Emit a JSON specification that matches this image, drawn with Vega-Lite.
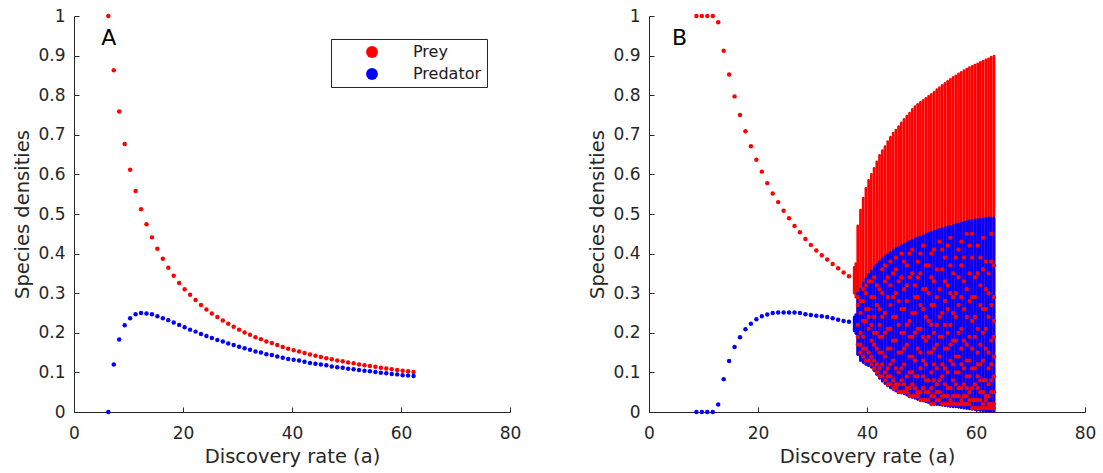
{
"$schema":"https://vega.github.io/schema/vega-lite/v6.json",
"background":"white",
"padding":{"left":12,"top":7,"right":4,"bottom":4},
"config":{
 "view":{"stroke":null},
 "font":"DejaVu Sans",
 "axis":{"grid":false,"domainColor":"#262626","domainWidth":1,"tickColor":"#262626","tickWidth":1,"tickSize":-5,"labelFont":"DejaVu Sans","labelFontSize":17,"labelColor":"#262626","titleFont":"DejaVu Sans","titleFontSize":19.5,"titleFontWeight":"normal","titleColor":"#262626","labelFlush":false},
 "axisY":{"labelPadding":14,"titlePadding":5},
 "axisX":{"labelPadding":18,"titlePadding":6},
 "legend":{"strokeWidth":1}
},
"datasets":{
 "A":[
  {"a":6.3,"s":"Prey","v":1},{"a":7.3,"s":"Prey","v":0.863},{"a":8.3,"s":"Prey","v":0.759},{"a":9.3,"s":"Prey","v":0.677},{"a":10.3,"s":"Prey","v":0.612},{"a":11.3,"s":"Prey","v":0.558},{"a":12.3,"s":"Prey","v":0.512},{"a":13.3,"s":"Prey","v":0.474},{"a":14.3,"s":"Prey","v":0.441},{"a":15.3,"s":"Prey","v":0.412},{"a":16.3,"s":"Prey","v":0.387},{"a":17.3,"s":"Prey","v":0.364},{"a":18.3,"s":"Prey","v":0.344},{"a":19.3,"s":"Prey","v":0.326},{"a":20.3,"s":"Prey","v":0.31},{"a":21.3,"s":"Prey","v":0.296},{"a":22.3,"s":"Prey","v":0.283},{"a":23.3,"s":"Prey","v":0.27},{"a":24.3,"s":"Prey","v":0.259},{"a":25.3,"s":"Prey","v":0.249},{"a":26.3,"s":"Prey","v":0.24},{"a":27.3,"s":"Prey","v":0.231},{"a":28.3,"s":"Prey","v":0.223},{"a":29.3,"s":"Prey","v":0.215},{"a":30.3,"s":"Prey","v":0.208},{"a":31.3,"s":"Prey","v":0.201},{"a":32.3,"s":"Prey","v":0.195},{"a":33.3,"s":"Prey","v":0.189},{"a":34.3,"s":"Prey","v":0.184},{"a":35.3,"s":"Prey","v":0.178},{"a":36.3,"s":"Prey","v":0.174},{"a":37.3,"s":"Prey","v":0.169},{"a":38.3,"s":"Prey","v":0.164},{"a":39.3,"s":"Prey","v":0.16},{"a":40.3,"s":"Prey","v":0.156},{"a":41.3,"s":"Prey","v":0.153},{"a":42.3,"s":"Prey","v":0.149},{"a":43.3,"s":"Prey","v":0.145},{"a":44.3,"s":"Prey","v":0.142},{"a":45.3,"s":"Prey","v":0.139},{"a":46.3,"s":"Prey","v":0.136},{"a":47.3,"s":"Prey","v":0.133},{"a":48.3,"s":"Prey","v":0.13},{"a":49.3,"s":"Prey","v":0.128},{"a":50.3,"s":"Prey","v":0.125},{"a":51.3,"s":"Prey","v":0.123},{"a":52.3,"s":"Prey","v":0.12},{"a":53.3,"s":"Prey","v":0.118},{"a":54.3,"s":"Prey","v":0.116},{"a":55.3,"s":"Prey","v":0.114},{"a":56.3,"s":"Prey","v":0.112},{"a":57.3,"s":"Prey","v":0.11},{"a":58.3,"s":"Prey","v":0.108},{"a":59.3,"s":"Prey","v":0.106},{"a":60.3,"s":"Prey","v":0.104},{"a":61.3,"s":"Prey","v":0.103},{"a":62.3,"s":"Prey","v":0.101},
  {"a":6.3,"s":"Predator","v":0},{"a":7.3,"s":"Predator","v":0.12},{"a":8.3,"s":"Predator","v":0.183},{"a":9.3,"s":"Predator","v":0.219},{"a":10.3,"s":"Predator","v":0.237},{"a":11.3,"s":"Predator","v":0.247},{"a":12.3,"s":"Predator","v":0.25},{"a":13.3,"s":"Predator","v":0.249},{"a":14.3,"s":"Predator","v":0.247},{"a":15.3,"s":"Predator","v":0.242},{"a":16.3,"s":"Predator","v":0.237},{"a":17.3,"s":"Predator","v":0.232},{"a":18.3,"s":"Predator","v":0.226},{"a":19.3,"s":"Predator","v":0.22},{"a":20.3,"s":"Predator","v":0.214},{"a":21.3,"s":"Predator","v":0.208},{"a":22.3,"s":"Predator","v":0.203},{"a":23.3,"s":"Predator","v":0.197},{"a":24.3,"s":"Predator","v":0.192},{"a":25.3,"s":"Predator","v":0.187},{"a":26.3,"s":"Predator","v":0.182},{"a":27.3,"s":"Predator","v":0.178},{"a":28.3,"s":"Predator","v":0.173},{"a":29.3,"s":"Predator","v":0.169},{"a":30.3,"s":"Predator","v":0.165},{"a":31.3,"s":"Predator","v":0.161},{"a":32.3,"s":"Predator","v":0.157},{"a":33.3,"s":"Predator","v":0.153},{"a":34.3,"s":"Predator","v":0.15},{"a":35.3,"s":"Predator","v":0.146},{"a":36.3,"s":"Predator","v":0.144},{"a":37.3,"s":"Predator","v":0.14},{"a":38.3,"s":"Predator","v":0.137},{"a":39.3,"s":"Predator","v":0.134},{"a":40.3,"s":"Predator","v":0.132},{"a":41.3,"s":"Predator","v":0.13},{"a":42.3,"s":"Predator","v":0.127},{"a":43.3,"s":"Predator","v":0.124},{"a":44.3,"s":"Predator","v":0.122},{"a":45.3,"s":"Predator","v":0.12},{"a":46.3,"s":"Predator","v":0.118},{"a":47.3,"s":"Predator","v":0.115},{"a":48.3,"s":"Predator","v":0.113},{"a":49.3,"s":"Predator","v":0.112},{"a":50.3,"s":"Predator","v":0.109},{"a":51.3,"s":"Predator","v":0.108},{"a":52.3,"s":"Predator","v":0.106},{"a":53.3,"s":"Predator","v":0.104},{"a":54.3,"s":"Predator","v":0.103},{"a":55.3,"s":"Predator","v":0.101},{"a":56.3,"s":"Predator","v":0.099},{"a":57.3,"s":"Predator","v":0.098},{"a":58.3,"s":"Predator","v":0.096},{"a":59.3,"s":"Predator","v":0.095},{"a":60.3,"s":"Predator","v":0.093},{"a":61.3,"s":"Predator","v":0.092},{"a":62.3,"s":"Predator","v":0.091}
 ],
 "LA":[{"a":5.0,"v":0.927,"t":"A"}],
 "LB":[{"a":4.2,"v":0.927,"t":"B"}],
 "B":[
  {"a":8.7,"s":"Prey","v":1},{"a":9.7,"s":"Prey","v":1},{"a":10.7,"s":"Prey","v":1},{"a":11.7,"s":"Prey","v":1},{"a":12.7,"s":"Prey","v":0.984},{"a":13.7,"s":"Prey","v":0.912},{"a":14.7,"s":"Prey","v":0.852},{"a":15.7,"s":"Prey","v":0.797},{"a":16.7,"s":"Prey","v":0.75},{"a":17.7,"s":"Prey","v":0.709},{"a":18.7,"s":"Prey","v":0.671},{"a":19.7,"s":"Prey","v":0.637},{"a":20.7,"s":"Prey","v":0.607},{"a":21.7,"s":"Prey","v":0.578},{"a":22.7,"s":"Prey","v":0.552},{"a":23.7,"s":"Prey","v":0.53},{"a":24.7,"s":"Prey","v":0.508},{"a":25.7,"s":"Prey","v":0.489},{"a":26.7,"s":"Prey","v":0.47},{"a":27.7,"s":"Prey","v":0.454},{"a":28.7,"s":"Prey","v":0.437},{"a":29.7,"s":"Prey","v":0.422},{"a":30.7,"s":"Prey","v":0.408},{"a":31.7,"s":"Prey","v":0.396},{"a":32.7,"s":"Prey","v":0.385},{"a":33.7,"s":"Prey","v":0.374},{"a":34.7,"s":"Prey","v":0.363},{"a":35.7,"s":"Prey","v":0.352},{"a":36.7,"s":"Prey","v":0.343},
  {"a":8.7,"s":"Predator","v":0},{"a":9.7,"s":"Predator","v":0},{"a":10.7,"s":"Predator","v":0},{"a":11.7,"s":"Predator","v":0},{"a":12.7,"s":"Predator","v":0.019},{"a":13.7,"s":"Predator","v":0.083},{"a":14.7,"s":"Predator","v":0.129},{"a":15.7,"s":"Predator","v":0.164},{"a":16.7,"s":"Predator","v":0.189},{"a":17.7,"s":"Predator","v":0.209},{"a":18.7,"s":"Predator","v":0.223},{"a":19.7,"s":"Predator","v":0.234},{"a":20.7,"s":"Predator","v":0.242},{"a":21.7,"s":"Predator","v":0.246},{"a":22.7,"s":"Predator","v":0.25},{"a":23.7,"s":"Predator","v":0.251},{"a":24.7,"s":"Predator","v":0.251},{"a":25.7,"s":"Predator","v":0.251},{"a":26.7,"s":"Predator","v":0.251},{"a":27.7,"s":"Predator","v":0.25},{"a":28.7,"s":"Predator","v":0.247},{"a":29.7,"s":"Predator","v":0.245},{"a":30.7,"s":"Predator","v":0.243},{"a":31.7,"s":"Predator","v":0.242},{"a":32.7,"s":"Predator","v":0.24},{"a":33.7,"s":"Predator","v":0.237},{"a":34.7,"s":"Predator","v":0.233},{"a":35.7,"s":"Predator","v":0.23},{"a":36.7,"s":"Predator","v":0.228}
 ],
 "Bprey":[
  {"a":37.65,"v":0.3,"v2":0.365},{"a":37.95,"v":0.29,"v2":0.375},
  {"a":38.3,"v":0.145,"v2":0.47},{"a":38.8,"v":0.13,"v2":0.51},{"a":39.3,"v":0.125,"v2":0.54},{"a":39.8,"v":0.12,"v2":0.565},{"a":40.3,"v":0.117,"v2":0.585},{"a":40.8,"v":0.113,"v2":0.6},{"a":41.3,"v":0.105,"v2":0.615},{"a":41.8,"v":0.095,"v2":0.632},{"a":42.3,"v":0.085,"v2":0.648},{"a":42.8,"v":0.078,"v2":0.66},{"a":43.3,"v":0.072,"v2":0.67},{"a":43.8,"v":0.066,"v2":0.683},{"a":44.3,"v":0.061,"v2":0.694},{"a":44.8,"v":0.057,"v2":0.704},{"a":45.3,"v":0.053,"v2":0.712},{"a":45.8,"v":0.05,"v2":0.721},{"a":46.3,"v":0.048,"v2":0.73},{"a":46.8,"v":0.046,"v2":0.739},{"a":47.3,"v":0.043,"v2":0.747},{"a":47.8,"v":0.04,"v2":0.755},{"a":48.3,"v":0.037,"v2":0.764},{"a":48.8,"v":0.035,"v2":0.771},{"a":49.3,"v":0.032,"v2":0.777},{"a":49.8,"v":0.03,"v2":0.782},{"a":50.3,"v":0.028,"v2":0.787},{"a":50.8,"v":0.026,"v2":0.792},{"a":51.3,"v":0.024,"v2":0.797},{"a":51.8,"v":0.023,"v2":0.802},{"a":52.3,"v":0.021,"v2":0.808},{"a":52.8,"v":0.019,"v2":0.814},{"a":53.3,"v":0.018,"v2":0.819},{"a":53.8,"v":0.017,"v2":0.825},{"a":54.3,"v":0.016,"v2":0.83},{"a":54.8,"v":0.015,"v2":0.835},{"a":55.3,"v":0.014,"v2":0.84},{"a":55.8,"v":0.013,"v2":0.845},{"a":56.3,"v":0.013,"v2":0.849},{"a":56.8,"v":0.012,"v2":0.854},{"a":57.3,"v":0.011,"v2":0.858},{"a":57.8,"v":0.01,"v2":0.862},{"a":58.3,"v":0.009,"v2":0.866},{"a":58.8,"v":0.008,"v2":0.87},{"a":59.3,"v":0.007,"v2":0.873},{"a":59.8,"v":0.006,"v2":0.876},{"a":60.3,"v":0.005,"v2":0.879},{"a":60.8,"v":0.004,"v2":0.883},{"a":61.3,"v":0.003,"v2":0.886},{"a":61.8,"v":0.002,"v2":0.889},{"a":62.3,"v":0.002,"v2":0.892},{"a":62.8,"v":0.001,"v2":0.896},{"a":63.3,"v":0.001,"v2":0.899}
 ],
 "Bpred":[
  {"a":37.65,"v":0.205,"v2":0.24},{"a":37.95,"v":0.198,"v2":0.246},
  {"a":38.3,"v":0.145,"v2":0.3},{"a":38.8,"v":0.13,"v2":0.31},{"a":39.3,"v":0.125,"v2":0.325},{"a":39.8,"v":0.12,"v2":0.337},{"a":40.3,"v":0.117,"v2":0.347},{"a":40.8,"v":0.113,"v2":0.356},{"a":41.3,"v":0.105,"v2":0.365},{"a":41.8,"v":0.095,"v2":0.373},{"a":42.3,"v":0.085,"v2":0.38},{"a":42.8,"v":0.078,"v2":0.387},{"a":43.3,"v":0.072,"v2":0.393},{"a":43.8,"v":0.066,"v2":0.398},{"a":44.3,"v":0.061,"v2":0.403},{"a":44.8,"v":0.057,"v2":0.408},{"a":45.3,"v":0.053,"v2":0.412},{"a":45.8,"v":0.05,"v2":0.416},{"a":46.3,"v":0.048,"v2":0.42},{"a":46.8,"v":0.046,"v2":0.423},{"a":47.3,"v":0.043,"v2":0.427},{"a":47.8,"v":0.04,"v2":0.431},{"a":48.3,"v":0.037,"v2":0.434},{"a":48.8,"v":0.035,"v2":0.437},{"a":49.3,"v":0.032,"v2":0.44},{"a":49.8,"v":0.03,"v2":0.442},{"a":50.3,"v":0.028,"v2":0.445},{"a":50.8,"v":0.026,"v2":0.448},{"a":51.3,"v":0.024,"v2":0.451},{"a":51.8,"v":0.023,"v2":0.454},{"a":52.3,"v":0.021,"v2":0.456},{"a":52.8,"v":0.019,"v2":0.459},{"a":53.3,"v":0.018,"v2":0.461},{"a":53.8,"v":0.017,"v2":0.463},{"a":54.3,"v":0.016,"v2":0.465},{"a":54.8,"v":0.015,"v2":0.467},{"a":55.3,"v":0.014,"v2":0.469},{"a":55.8,"v":0.013,"v2":0.471},{"a":56.3,"v":0.013,"v2":0.473},{"a":56.8,"v":0.012,"v2":0.475},{"a":57.3,"v":0.011,"v2":0.477},{"a":57.8,"v":0.01,"v2":0.479},{"a":58.3,"v":0.009,"v2":0.481},{"a":58.8,"v":0.008,"v2":0.483},{"a":59.3,"v":0.007,"v2":0.484},{"a":59.8,"v":0.006,"v2":0.485},{"a":60.3,"v":0.005,"v2":0.486},{"a":60.8,"v":0.004,"v2":0.487},{"a":61.3,"v":0.003,"v2":0.488},{"a":61.8,"v":0.002,"v2":0.489},{"a":62.3,"v":0.002,"v2":0.49},{"a":62.8,"v":0.001,"v2":0.49},{"a":63.3,"v":0.001,"v2":0.49}
 ],
 "Bs":[
  {"a":38.3,"v":0.17},{"a":38.3,"v":0.22},{"a":38.3,"v":0.27},{"a":38.3,"v":0.19},{"a":38.3,"v":0.29},
  {"a":38.8,"v":0.15},{"a":38.8,"v":0.2},{"a":38.8,"v":0.25},{"a":38.8,"v":0.17},{"a":38.8,"v":0.28},
  {"a":39.3,"v":0.14},{"a":39.3,"v":0.19},{"a":39.3,"v":0.28},{"a":39.3,"v":0.31},{"a":39.3,"v":0.16},{"a":39.3,"v":0.23},
  {"a":39.8,"v":0.16},{"a":39.8,"v":0.23},{"a":39.8,"v":0.3},{"a":39.8,"v":0.13},{"a":39.8,"v":0.26},{"a":39.8,"v":0.32},
  {"a":40.3,"v":0.13},{"a":40.3,"v":0.21},{"a":40.3,"v":0.26},{"a":40.3,"v":0.33},{"a":40.3,"v":0.15},{"a":40.3,"v":0.24},
  {"a":40.8,"v":0.12},{"a":40.8,"v":0.18},{"a":40.8,"v":0.29},{"a":40.8,"v":0.14},{"a":40.8,"v":0.22},{"a":40.8,"v":0.33},
  {"a":41.3,"v":0.11},{"a":41.3,"v":0.17},{"a":41.3,"v":0.24},{"a":41.3,"v":0.34},{"a":41.3,"v":0.13},{"a":41.3,"v":0.2},{"a":41.3,"v":0.29},
  {"a":41.8,"v":0.1},{"a":41.8,"v":0.2},{"a":41.8,"v":0.27},{"a":41.8,"v":0.12},{"a":41.8,"v":0.16},{"a":41.8,"v":0.32},
  {"a":42.3,"v":0.09},{"a":42.3,"v":0.15},{"a":42.3,"v":0.22},{"a":42.3,"v":0.31},{"a":42.3,"v":0.11},{"a":42.3,"v":0.19},{"a":42.3,"v":0.26},
  {"a":42.8,"v":0.12},{"a":42.8,"v":0.19},{"a":42.8,"v":0.36},{"a":42.8,"v":0.09},{"a":42.8,"v":0.15},{"a":42.8,"v":0.24},{"a":42.8,"v":0.3},
  {"a":43.3,"v":0.08},{"a":43.3,"v":0.14},{"a":43.3,"v":0.25},{"a":43.3,"v":0.33},{"a":43.3,"v":0.1},{"a":43.3,"v":0.2},{"a":43.3,"v":0.37},
  {"a":43.8,"v":0.07},{"a":43.8,"v":0.11},{"a":43.8,"v":0.21},{"a":43.8,"v":0.29},{"a":43.8,"v":0.09},{"a":43.8,"v":0.16},{"a":43.8,"v":0.34},
  {"a":44.3,"v":0.09},{"a":44.3,"v":0.16},{"a":44.3,"v":0.27},{"a":44.3,"v":0.38},{"a":44.3,"v":0.07},{"a":44.3,"v":0.12},{"a":44.3,"v":0.21},{"a":44.3,"v":0.32},
  {"a":44.8,"v":0.06},{"a":44.8,"v":0.13},{"a":44.8,"v":0.24},{"a":44.8,"v":0.08},{"a":44.8,"v":0.18},{"a":44.8,"v":0.29},{"a":44.8,"v":0.35},
  {"a":45.3,"v":0.07},{"a":45.3,"v":0.18},{"a":45.3,"v":0.3},{"a":45.3,"v":0.36},{"a":45.3,"v":0.06},{"a":45.3,"v":0.11},{"a":45.3,"v":0.24},{"a":45.3,"v":0.39},
  {"a":45.8,"v":0.05},{"a":45.8,"v":0.1},{"a":45.8,"v":0.22},{"a":45.8,"v":0.33},{"a":45.8,"v":0.07},{"a":45.8,"v":0.15},{"a":45.8,"v":0.28},
  {"a":46.3,"v":0.08},{"a":46.3,"v":0.15},{"a":46.3,"v":0.26},{"a":46.3,"v":0.4},{"a":46.3,"v":0.05},{"a":46.3,"v":0.11},{"a":46.3,"v":0.2},{"a":46.3,"v":0.34},
  {"a":46.8,"v":0.05},{"a":46.8,"v":0.12},{"a":46.8,"v":0.2},{"a":46.8,"v":0.31},{"a":46.8,"v":0.07},{"a":46.8,"v":0.16},{"a":46.8,"v":0.26},{"a":46.8,"v":0.38},
  {"a":47.3,"v":0.06},{"a":47.3,"v":0.17},{"a":47.3,"v":0.28},{"a":47.3,"v":0.37},{"a":47.3,"v":0.05},{"a":47.3,"v":0.09},{"a":47.3,"v":0.22},{"a":47.3,"v":0.32},
  {"a":47.8,"v":0.04},{"a":47.8,"v":0.1},{"a":47.8,"v":0.23},{"a":47.8,"v":0.34},{"a":47.8,"v":0.06},{"a":47.8,"v":0.14},{"a":47.8,"v":0.19},{"a":47.8,"v":0.4},
  {"a":48.3,"v":0.07},{"a":48.3,"v":0.14},{"a":48.3,"v":0.19},{"a":48.3,"v":0.41},{"a":48.3,"v":0.04},{"a":48.3,"v":0.1},{"a":48.3,"v":0.25},{"a":48.3,"v":0.35},
  {"a":48.8,"v":0.04},{"a":48.8,"v":0.09},{"a":48.8,"v":0.25},{"a":48.8,"v":0.32},{"a":48.8,"v":0.06},{"a":48.8,"v":0.13},{"a":48.8,"v":0.2},{"a":48.8,"v":0.29},
  {"a":49.3,"v":0.05},{"a":49.3,"v":0.16},{"a":49.3,"v":0.29},{"a":49.3,"v":0.38},{"a":49.3,"v":0.04},{"a":49.3,"v":0.09},{"a":49.3,"v":0.21},{"a":49.3,"v":0.34},
  {"a":49.8,"v":0.03},{"a":49.8,"v":0.11},{"a":49.8,"v":0.21},{"a":49.8,"v":0.35},{"a":49.8,"v":0.05},{"a":49.8,"v":0.15},{"a":49.8,"v":0.27},{"a":49.8,"v":0.4},
  {"a":50.3,"v":0.06},{"a":50.3,"v":0.13},{"a":50.3,"v":0.26},{"a":50.3,"v":0.42},{"a":50.3,"v":0.03},{"a":50.3,"v":0.09},{"a":50.3,"v":0.19},{"a":50.3,"v":0.31},
  {"a":50.8,"v":0.03},{"a":50.8,"v":0.08},{"a":50.8,"v":0.18},{"a":50.8,"v":0.31},{"a":50.8,"v":0.05},{"a":50.8,"v":0.12},{"a":50.8,"v":0.24},{"a":50.8,"v":0.37},
  {"a":51.3,"v":0.05},{"a":51.3,"v":0.15},{"a":51.3,"v":0.23},{"a":51.3,"v":0.37},{"a":51.3,"v":0.03},{"a":51.3,"v":0.08},{"a":51.3,"v":0.19},{"a":51.3,"v":0.3},
  {"a":51.8,"v":0.02},{"a":51.8,"v":0.1},{"a":51.8,"v":0.27},{"a":51.8,"v":0.4},{"a":51.8,"v":0.04},{"a":51.8,"v":0.06},{"a":51.8,"v":0.15},{"a":51.8,"v":0.22},{"a":51.8,"v":0.34},
  {"a":52.3,"v":0.04},{"a":52.3,"v":0.12},{"a":52.3,"v":0.2},{"a":52.3,"v":0.33},{"a":52.3,"v":0.02},{"a":52.3,"v":0.08},{"a":52.3,"v":0.16},{"a":52.3,"v":0.27},{"a":52.3,"v":0.41},
  {"a":52.8,"v":0.03},{"a":52.8,"v":0.07},{"a":52.8,"v":0.17},{"a":52.8,"v":0.29},{"a":52.8,"v":0.05},{"a":52.8,"v":0.11},{"a":52.8,"v":0.22},{"a":52.8,"v":0.36},
  {"a":53.3,"v":0.05},{"a":53.3,"v":0.14},{"a":53.3,"v":0.24},{"a":53.3,"v":0.43},{"a":53.3,"v":0.03},{"a":53.3,"v":0.08},{"a":53.3,"v":0.19},{"a":53.3,"v":0.31},
  {"a":53.8,"v":0.02},{"a":53.8,"v":0.09},{"a":53.8,"v":0.19},{"a":53.8,"v":0.36},{"a":53.8,"v":0.04},{"a":53.8,"v":0.12},{"a":53.8,"v":0.25},{"a":53.8,"v":0.41},
  {"a":54.3,"v":0.04},{"a":54.3,"v":0.11},{"a":54.3,"v":0.28},{"a":54.3,"v":0.39},{"a":54.3,"v":0.02},{"a":54.3,"v":0.07},{"a":54.3,"v":0.16},{"a":54.3,"v":0.22},{"a":54.3,"v":0.33},
  {"a":54.8,"v":0.02},{"a":54.8,"v":0.06},{"a":54.8,"v":0.16},{"a":54.8,"v":0.32},{"a":54.8,"v":0.04},{"a":54.8,"v":0.1},{"a":54.8,"v":0.2},{"a":54.8,"v":0.26},{"a":54.8,"v":0.42},
  {"a":55.3,"v":0.03},{"a":55.3,"v":0.13},{"a":55.3,"v":0.22},{"a":55.3,"v":0.44},{"a":55.3,"v":0.02},{"a":55.3,"v":0.06},{"a":55.3,"v":0.17},{"a":55.3,"v":0.3},{"a":55.3,"v":0.37},
  {"a":55.8,"v":0.02},{"a":55.8,"v":0.08},{"a":55.8,"v":0.25},{"a":55.8,"v":0.35},{"a":55.8,"v":0.04},{"a":55.8,"v":0.12},{"a":55.8,"v":0.18},{"a":55.8,"v":0.29},
  {"a":56.3,"v":0.04},{"a":56.3,"v":0.1},{"a":56.3,"v":0.18},{"a":56.3,"v":0.3},{"a":56.3,"v":0.02},{"a":56.3,"v":0.07},{"a":56.3,"v":0.14},{"a":56.3,"v":0.24},{"a":56.3,"v":0.39},
  {"a":56.8,"v":0.02},{"a":56.8,"v":0.06},{"a":56.8,"v":0.14},{"a":56.8,"v":0.41},{"a":56.8,"v":0.04},{"a":56.8,"v":0.1},{"a":56.8,"v":0.2},{"a":56.8,"v":0.27},{"a":56.8,"v":0.34},
  {"a":57.3,"v":0.03},{"a":57.3,"v":0.12},{"a":57.3,"v":0.21},{"a":57.3,"v":0.37},{"a":57.3,"v":0.02},{"a":57.3,"v":0.06},{"a":57.3,"v":0.16},{"a":57.3,"v":0.29},{"a":57.3,"v":0.43},
  {"a":57.8,"v":0.02},{"a":57.8,"v":0.07},{"a":57.8,"v":0.26},{"a":57.8,"v":0.33},{"a":57.8,"v":0.04},{"a":57.8,"v":0.11},{"a":57.8,"v":0.18},{"a":57.8,"v":0.39},
  {"a":58.3,"v":0.04},{"a":58.3,"v":0.09},{"a":58.3,"v":0.17},{"a":58.3,"v":0.45},{"a":58.3,"v":0.02},{"a":58.3,"v":0.06},{"a":58.3,"v":0.13},{"a":58.3,"v":0.24},{"a":58.3,"v":0.31},
  {"a":58.8,"v":0.02},{"a":58.8,"v":0.05},{"a":58.8,"v":0.13},{"a":58.8,"v":0.28},{"a":58.8,"v":0.03},{"a":58.8,"v":0.09},{"a":58.8,"v":0.19},{"a":58.8,"v":0.35},{"a":58.8,"v":0.42},
  {"a":59.3,"v":0.03},{"a":59.3,"v":0.11},{"a":59.3,"v":0.23},{"a":59.3,"v":0.39},{"a":59.3,"v":0.01},{"a":59.3,"v":0.06},{"a":59.3,"v":0.16},{"a":59.3,"v":0.29},{"a":59.3,"v":0.45},
  {"a":59.8,"v":0.01},{"a":59.8,"v":0.07},{"a":59.8,"v":0.19},{"a":59.8,"v":0.34},{"a":59.8,"v":0.03},{"a":59.8,"v":0.11},{"a":59.8,"v":0.24},{"a":59.8,"v":0.29},
  {"a":60.3,"v":0.03},{"a":60.3,"v":0.09},{"a":60.3,"v":0.15},{"a":60.3,"v":0.42},{"a":60.3,"v":0.01},{"a":60.3,"v":0.06},{"a":60.3,"v":0.12},{"a":60.3,"v":0.21},{"a":60.3,"v":0.35},
  {"a":60.8,"v":0.01},{"a":60.8,"v":0.05},{"a":60.8,"v":0.12},{"a":60.8,"v":0.27},{"a":60.8,"v":0.03},{"a":60.8,"v":0.08},{"a":60.8,"v":0.17},{"a":60.8,"v":0.32},{"a":60.8,"v":0.39},
  {"a":61.3,"v":0.02},{"a":61.3,"v":0.08},{"a":61.3,"v":0.2},{"a":61.3,"v":0.36},{"a":61.3,"v":0.01},{"a":61.3,"v":0.05},{"a":61.3,"v":0.13},{"a":61.3,"v":0.26},{"a":61.3,"v":0.44},
  {"a":61.8,"v":0.01},{"a":61.8,"v":0.04},{"a":61.8,"v":0.16},{"a":61.8,"v":0.31},{"a":61.8,"v":0.03},{"a":61.8,"v":0.08},{"a":61.8,"v":0.21},{"a":61.8,"v":0.26},{"a":61.8,"v":0.38},
  {"a":62.3,"v":0.02},{"a":62.3,"v":0.07},{"a":62.3,"v":0.11},{"a":62.3,"v":0.24},{"a":62.3,"v":0.01},{"a":62.3,"v":0.04},{"a":62.3,"v":0.15},{"a":62.3,"v":0.3},{"a":62.3,"v":0.35},
  {"a":62.8,"v":0.01},{"a":62.8,"v":0.05},{"a":62.8,"v":0.18},{"a":62.8,"v":0.38},{"a":62.8,"v":0.02},{"a":62.8,"v":0.08},{"a":62.8,"v":0.12},{"a":62.8,"v":0.27},{"a":62.8,"v":0.45},
  {"a":63.3,"v":0.02},{"a":63.3,"v":0.09},{"a":63.3,"v":0.14},{"a":63.3,"v":0.29},{"a":63.3,"v":0.01},{"a":63.3,"v":0.05},{"a":63.3,"v":0.19},{"a":63.3,"v":0.23},{"a":63.3,"v":0.37}
 ]
},
"spacing":139,
"bounds":"flush",
"resolve":{"scale":{"color":"independent"},"legend":{"color":"independent"}},
"hconcat":[
 {
  "width":436,"height":396,
  "encoding":{
   "x":{"field":"a","type":"quantitative","scale":{"domain":[0,80],"nice":false},"axis":{"title":"Discovery rate (a)","values":[0,20,40,60,80]}},
   "y":{"field":"v","type":"quantitative","scale":{"domain":[0,1],"nice":false},"axis":{"title":"Species densities","values":[0,0.1,0.2,0.3,0.4,0.5,0.6,0.7,0.8,0.9,1],"format":".1~f"}}
  },
  "layer":[
   {"data":{"name":"A"},"mark":{"type":"point","filled":true,"size":20,"opacity":1},
    "encoding":{"color":{"field":"s","type":"nominal","scale":{"domain":["Prey","Predator"],"range":["#ff0000","#0000ff"]},
     "legend":{"title":null,"orient":"none","legendX":257,"legendY":23,"strokeColor":"#262626","fillColor":"white","padding":5,"symbolType":"circle","symbolSize":140,"symbolStrokeWidth":0,"symbolOffset":28,"labelOffset":33,"labelFontSize":16,"labelColor":"#1a1a1a","labelFont":"DejaVu Sans","rowPadding":6}}}},
   {"data":{"name":"LA"},"mark":{"type":"text","align":"left","baseline":"alphabetic","fontSize":22,"color":"#000000"},"encoding":{"text":{"field":"t"}}}
  ]
 },
 {
  "width":436,"height":396,
  "encoding":{
   "x":{"field":"a","type":"quantitative","scale":{"domain":[0,80],"nice":false},"axis":{"title":"Discovery rate (a)","values":[0,20,40,60,80]}},
   "y":{"field":"v","type":"quantitative","scale":{"domain":[0,1],"nice":false},"axis":{"title":"Species densities","values":[0,0.1,0.2,0.3,0.4,0.5,0.6,0.7,0.8,0.9,1],"format":".1~f"}}
  },
  "layer":[
   {"data":{"name":"B"},"mark":{"type":"point","filled":true,"size":20,"opacity":1},
    "encoding":{"color":{"field":"s","type":"nominal","scale":{"domain":["Prey","Predator"],"range":["#ff0000","#0000ff"]},"legend":null}}},
   {"data":{"name":"Bprey"},"mark":{"type":"rule","color":"#ff0000","strokeWidth":2.7,"strokeCap":"round"},"encoding":{"y2":{"field":"v2"}}},
   {"data":{"name":"Bpred"},"mark":{"type":"rule","color":"#0000ff","strokeWidth":2.7,"strokeCap":"round"},"encoding":{"y2":{"field":"v2"}}},
   {"data":{"name":"Bs"},"mark":{"type":"point","filled":true,"size":18,"opacity":1,"color":"#ff0000"},"encoding":{}},
   {"data":{"name":"LB"},"mark":{"type":"text","align":"left","baseline":"alphabetic","fontSize":22,"color":"#000000"},"encoding":{"text":{"field":"t"}}}
  ]
 }
]
}
